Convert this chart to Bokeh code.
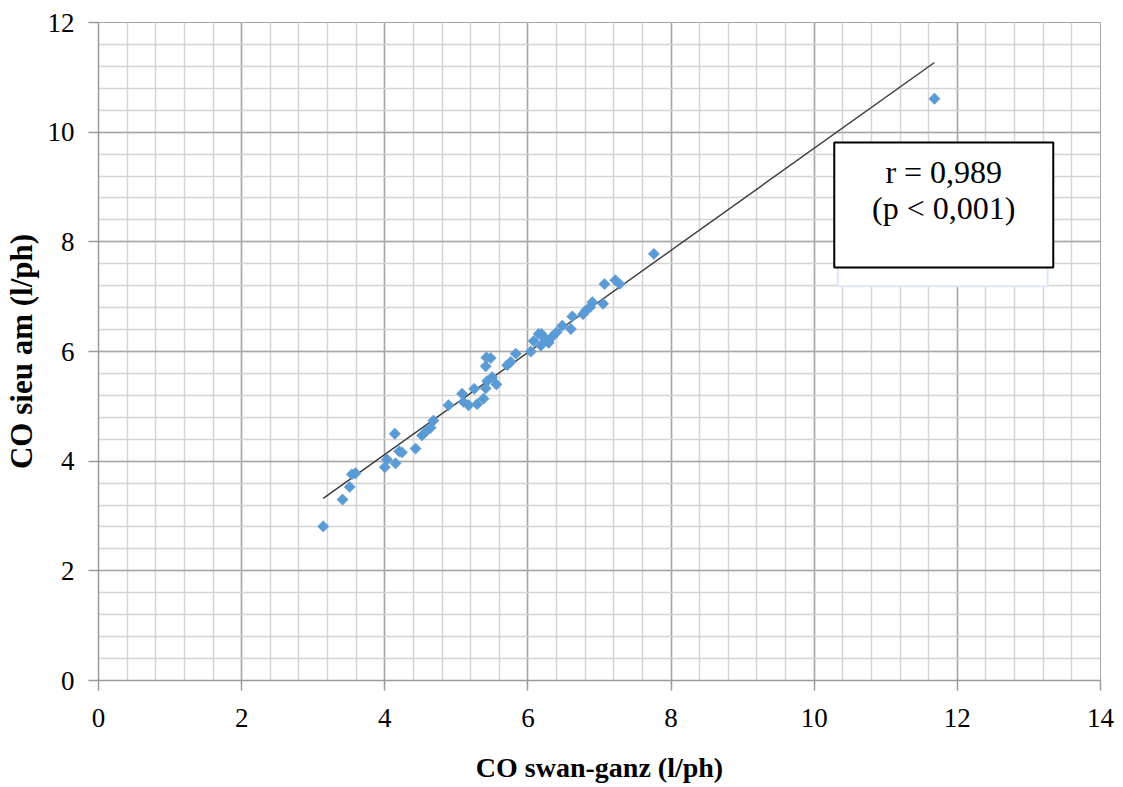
import math
from bokeh.plotting import figure
from bokeh.models import FixedTicker, Range1d
from bokeh.core.properties import value
from bokeh.embed import file_html
from bokeh.resources import INLINE

# Cardiac output measured by Swan-Ganz catheter vs. ultrasound (l/ph)
co_swan_ganz = [3.14, 3.41, 3.51, 3.54, 3.59, 4.00, 4.03, 4.14, 4.15, 4.20,
                4.24, 4.43, 4.52, 4.59, 4.64, 4.68, 4.89, 5.08, 5.10, 5.17,
                5.25, 5.29, 5.38, 5.41, 5.43, 5.41, 5.42, 5.48, 5.50, 5.56,
                5.71, 5.76, 5.83, 6.04, 6.08, 6.15, 6.18, 6.19, 6.22, 6.29,
                6.34, 6.40, 6.48, 6.60, 6.62, 6.77, 6.81, 6.87, 6.90, 7.05,
                7.07, 7.22, 7.28, 7.76, 11.68]
co_sieu_am = [2.81, 3.30, 3.53, 3.76, 3.78, 3.89, 4.03, 4.50, 3.96, 4.18,
              4.16, 4.23, 4.47, 4.56, 4.61, 4.74, 5.02, 5.23, 5.08, 5.02,
              5.32, 5.04, 5.14, 5.33, 5.46, 5.73, 5.89, 5.88, 5.53, 5.40,
              5.75, 5.81, 5.96, 6.00, 6.19, 6.32, 6.11, 6.32, 6.26, 6.16,
              6.27, 6.35, 6.47, 6.41, 6.64, 6.68, 6.75, 6.81, 6.90, 6.87,
              7.23, 7.30, 7.23, 7.78, 10.61]

# Linear trend line
trend_slope = 0.931
trend_intercept = 0.397

x_ticks = [0, 2, 4, 6, 8, 10, 12, 14]
y_ticks = [0, 2, 4, 6, 8, 10, 12]
minor_step = 0.4

stat_lines = ["r = 0,989", "(p < 0,001)"]

SERIF = "'Liberation Serif', 'Times New Roman', serif"
MAJOR_GRID = "#a6a6a6"
MINOR_GRID = "#d4d4d4"

p = figure(width=1123, height=787, output_backend="svg", toolbar_location=None,
           x_range=Range1d(0, 14), y_range=Range1d(0, 12),
           min_border_left=98, min_border_right=23, min_border_top=22,
           min_border_bottom=107)
p.background_fill_color = "white"
p.border_fill_color = "white"
p.outline_line_color = MAJOR_GRID

minor_x = [round(i * minor_step, 2) for i in range(int(14 / minor_step) + 1)]
minor_y = [round(i * minor_step, 2) for i in range(int(12 / minor_step) + 1)]
p.xaxis.ticker = FixedTicker(ticks=x_ticks, minor_ticks=minor_x)
p.yaxis.ticker = FixedTicker(ticks=y_ticks, minor_ticks=minor_y)

for grid in (p.xgrid, p.ygrid):
    grid.grid_line_color = MAJOR_GRID
    grid.grid_line_width = 1.5
    grid.minor_grid_line_color = MINOR_GRID
    grid.minor_grid_line_width = 1.5

for ax in (p.xaxis, p.yaxis):
    ax.axis_line_color = "#9a9a9a"
    ax.axis_line_width = 1.5
    ax.major_tick_line_color = "#9a9a9a"
    ax.major_tick_line_width = 1.5
    ax.major_tick_in = 0
    ax.major_tick_out = 10
    ax.minor_tick_line_color = None
    ax.major_label_text_font = SERIF
    ax.major_label_text_font_size = "27px"
    ax.major_label_text_color = "#000000"
    ax.axis_label_text_font = SERIF
    ax.axis_label_text_font_style = "bold"
    ax.axis_label_text_color = "#000000"

p.xaxis.axis_label = "CO swan-ganz (l/ph)"
p.yaxis.axis_label = "CO sieu am (l/ph)"
p.xaxis.axis_label_text_font_size = "28px"
p.yaxis.axis_label_text_font_size = "31px"
p.xaxis.major_label_standoff = 18
p.xaxis.axis_label_standoff = 22
p.yaxis.major_label_standoff = 14
p.yaxis.axis_label_standoff = 6

# Trend line across the observed range
x0, x1 = min(co_swan_ganz), max(co_swan_ganz)
p.line([x0, x1], [trend_slope * x0 + trend_intercept, trend_slope * x1 + trend_intercept],
       line_color="#3a3a3a", line_width=1.4)

# Observations (diamonds drawn as rotated squares)
p.scatter(co_swan_ganz, co_sieu_am, marker="square", angle=math.pi / 4, size=8,
          fill_color="#5b9bd5", line_color="#5b9bd5", line_width=0.5)

# Statistics box (with a faint frame behind it)
p.quad(left=[10.33], right=[13.26], bottom=[7.19], top=[9.0],
       fill_color="white", line_color="#dbe8f8", line_width=2)
p.quad(left=[10.28], right=[13.34], bottom=[7.53], top=[9.81],
       fill_color="white", line_color="black", line_width=2)
p.text(x=[11.81, 11.81], y=[9.27, 8.61], text=stat_lines,
       text_font=value(SERIF), text_font_size="32px", text_color="black",
       text_align="center", text_baseline="middle")

open("out.html", "w").write(file_html(p, INLINE))
